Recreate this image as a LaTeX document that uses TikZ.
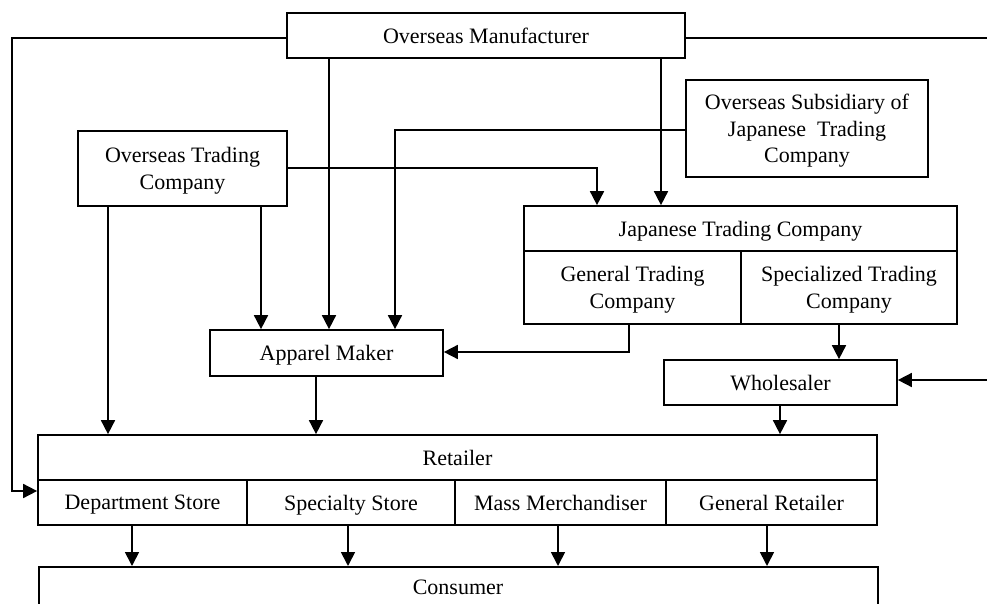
\documentclass[tikz,border=0pt]{standalone}
\usepackage{fontspec}
\setmainfont{Liberation Serif}
\usetikzlibrary{arrows.meta}
\begin{document}
\begin{tikzpicture}[x=1pt,y=-1pt,
  box/.style={draw, line width=1.7pt, inner sep=0pt, align=center,
    font=\fontsize{22}{26.5}\selectfont, text depth=0pt},
  conn/.style={line width=1.7pt, -{Triangle[length=14pt,width=14pt]}},
  plain/.style={line width=1.7pt}]
\useasboundingbox (0,0) rectangle (987,604);
\clip (0,0) rectangle (987,604);
% helper: box from corners
\newcommand{\mybox}[6]{\node[box, minimum width={#4-#2}, minimum height={#5-#3}] (#1) at ({(#2+#4)/2},{(#3+#5)/2}) {#6};}
\mybox{om}{287}{13}{685}{58}{Overseas Manufacturer}
\mybox{osj}{686}{80}{928}{177}{Overseas Subsidiary of\\Japanese\ \ Trading\\Company}
\mybox{otc}{78}{131}{287}{206}{Overseas Trading\\Company}
\mybox{jtc}{524}{206}{957}{251}{Japanese Trading Company}
\mybox{gtc}{524}{251}{741}{324}{General Trading\\Company}
\mybox{stc}{741}{251}{957}{324}{Specialized Trading\\Company}
\mybox{am}{210}{330}{443}{376}{Apparel Maker}
\mybox{ws}{664}{360}{897}{405}{Wholesaler}
\mybox{ret}{38}{435}{877}{480}{Retailer}
\mybox{ds}{38}{480}{247}{525}{Department Store}
\mybox{ss}{247}{480}{455}{525}{Specialty Store}
\mybox{mm}{455}{480}{666}{525}{Mass Merchandiser}
\mybox{gr}{666}{480}{877}{525}{General Retailer}
\node[box, minimum width=839, minimum height=44, anchor=north west] (con) at (38,566) {};
\node[font=\fontsize{22}{26.5}\selectfont] at (458,587) {Consumer};
% connectors
\draw[conn] (om.west |- 0,38) -- (12,38) -- (12,491) -- (ds.west |- 0,491);
\coordinate (offr) at (995,38);
\draw[plain] (om.east |- 0,38) -- (offr) -- (995,380);
\draw[conn] (995,380) -- (ws.east |- 0,380);
\draw[conn] (om.south -| 329,0) -- (am.north -| 329,0);
\draw[conn] (om.south -| 661,0) -- (jtc.north -| 661,0);
\draw[conn] (osj.west |- 0,130) -- (395,130) -- (am.north -| 395,0);
\draw[conn] (otc.east |- 0,168) -- (597,168) -- (jtc.north -| 597,0);
\draw[conn] (otc.south -| 108,0) -- (ret.north -| 108,0);
\draw[conn] (otc.south -| 261,0) -- (am.north -| 261,0);
\draw[conn] (gtc.south -| 629,0) -- (629,352) -- (am.east |- 0,352);
\draw[conn] (stc.south -| 839,0) -- (ws.north -| 839,0);
\draw[conn] (ws.south -| 780,0) -- (ret.north -| 780,0);
\draw[conn] (am.south -| 316,0) -- (ret.north -| 316,0);
\draw[conn] (ds.south -| 132,0) -- (con.north -| 132,0);
\draw[conn] (ss.south -| 348,0) -- (con.north -| 348,0);
\draw[conn] (mm.south -| 558,0) -- (con.north -| 558,0);
\draw[conn] (gr.south -| 767,0) -- (con.north -| 767,0);
\end{tikzpicture}
\end{document}
